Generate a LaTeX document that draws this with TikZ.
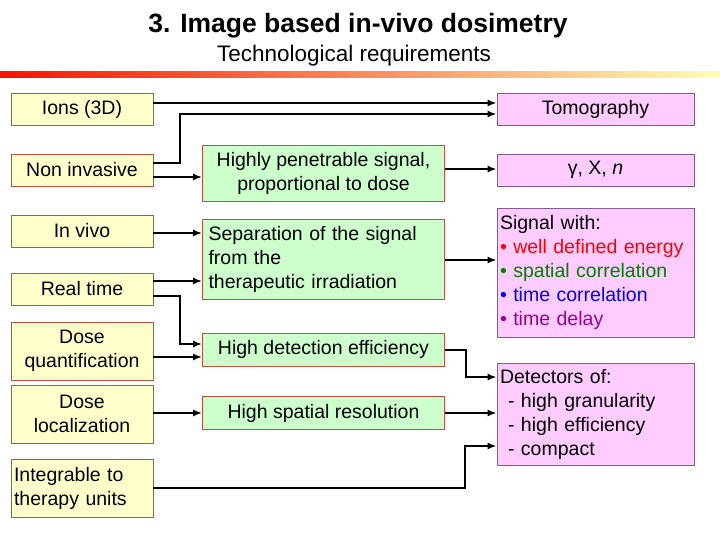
\documentclass[tikz,border=0pt]{standalone}
\usepackage{fontspec}
\setmainfont{Liberation Sans}
\usetikzlibrary{arrows.meta}
\definecolor{lfill}{RGB}{255,255,204}
\definecolor{mfill}{RGB}{204,255,204}
\definecolor{rfill}{RGB}{255,204,255}
\definecolor{lborder}{RGB}{192,80,60}
\definecolor{rborder}{RGB}{128,90,160}
\begin{document}
\begin{tikzpicture}[x=1pt,y=-1pt,
  lbox/.style={draw=lborder,fill=lfill,line width=0.8pt,minimum width=142pt,inner sep=2pt,font=\fontsize{19.5}{24}\selectfont,align=center},
  mbox/.style={draw=lborder,fill=mfill,line width=0.8pt,minimum width=242pt,inner sep=2pt,font=\fontsize{19.5}{24}\selectfont},
  rbox/.style={draw=rborder,fill=rfill,line width=0.8pt,minimum width=197pt,inner sep=2pt,font=\fontsize{19.5}{24}\selectfont},
  conn/.style={line width=2pt,-{Latex[length=9pt,width=7pt]}}]
\useasboundingbox (0,0) rectangle (720,540);
\fill[white] (0,0) rectangle (720,540);
\shade[left color=red!85!orange,right color=yellow!30] (0,72) rectangle (720,78);
\node[font=\bfseries\fontsize{26.5}{30}\selectfont] (title) at (358,26) {3. Image based in-vivo dosimetry};
\node[font=\fontsize{22.5}{26}\selectfont] (sub) at (354,56) {Technological requirements};
% left
\node[lbox,minimum height=32pt] (ions) at (82,109) {Ions (3D)};
\node[lbox,minimum height=32pt] (noninv) at (82,170) {Non invasive};
\node[lbox,minimum height=32pt] (invivo) at (82,231) {In vivo};
\node[lbox,minimum height=32pt] (rtime) at (82,289) {Real time};
\node[lbox,minimum height=58pt] (dquant) at (82,351) {Dose\\quantification};
\node[lbox,minimum height=58pt] (dloc) at (82,414) {Dose\\localization};
\node[lbox,minimum height=58pt,align=left,text width=136pt] (integ) at (82,488) {Integrable to\\therapy units};
% middle
\node[mbox,minimum height=56pt,align=center] (pen) at (323.5,173) {Highly penetrable signal,\\proportional to dose};
\node[mbox,minimum height=80pt,align=left,text width=230pt] (sep) at (323.5,259) {Separation of the signal\\from the\\therapeutic irradiation\\[10pt]};
\node[mbox,minimum height=33pt] (hdet) at (323.5,349.5) {High detection efficiency};
\node[mbox,minimum height=33pt] (hres) at (323.5,413) {High spatial resolution};
% right
\node[rbox,minimum height=32pt] (tomo) at (595.5,109) {Tomography};
\node[rbox,minimum height=32pt] (gxn) at (595.5,170) {γ, X, \textit{n}};
\node[rbox,minimum height=129pt,align=left,text width=191pt] (sig) at (595.5,272.5) {Signal with:\\
\textcolor{red}{• well defined energy}\\
\textcolor{green!50!black}{• spatial correlation}\\
\textcolor{blue}{• time correlation}\\
\textcolor{violet!80!magenta}{• time delay}};
\node[rbox,minimum height=102pt,align=left,text width=191pt] (det) at (595.5,414) {Detectors of:\\
\hspace*{8pt}- high granularity\\
\hspace*{8pt}- high efficiency\\
\hspace*{8pt}- compact};
% connectors
\draw[conn] (ions.east |- 0,103) -- (tomo.west |- 0,103);
\draw[conn] (noninv.east |- 0,163) -| (180,114) -- (tomo.west |- 0,114);
\draw[conn] (noninv.east |- 0,177) -- (pen.west |- 0,177);
\draw[conn] (pen.east |- 0,169) -- (gxn.west |- 0,169);
\draw[conn] (invivo.east |- 0,233) -- (sep.west |- 0,233);
\draw[conn] (rtime.east |- 0,281) -- (sep.west |- 0,281);
\draw[conn] (sep.east |- 0,260) -- (sig.west |- 0,260);
\draw[conn] (rtime.east |- 0,296) -| (180,344) -- (hdet.west |- 0,344);
\draw[conn] (dquant.east |- 0,357) -- (hdet.west |- 0,357);
\draw[conn] (hdet.east |- 0,350) -| (466,377) -- (det.west |- 0,377);
\draw[conn] (dloc.east |- 0,413) -- (hres.west |- 0,413);
\draw[conn] (hres.east |- 0,413) -- (det.west |- 0,413);
\draw[conn] (integ.east |- 0,488) -| (465,446) -- (det.west |- 0,446);
\end{tikzpicture}
\end{document}
